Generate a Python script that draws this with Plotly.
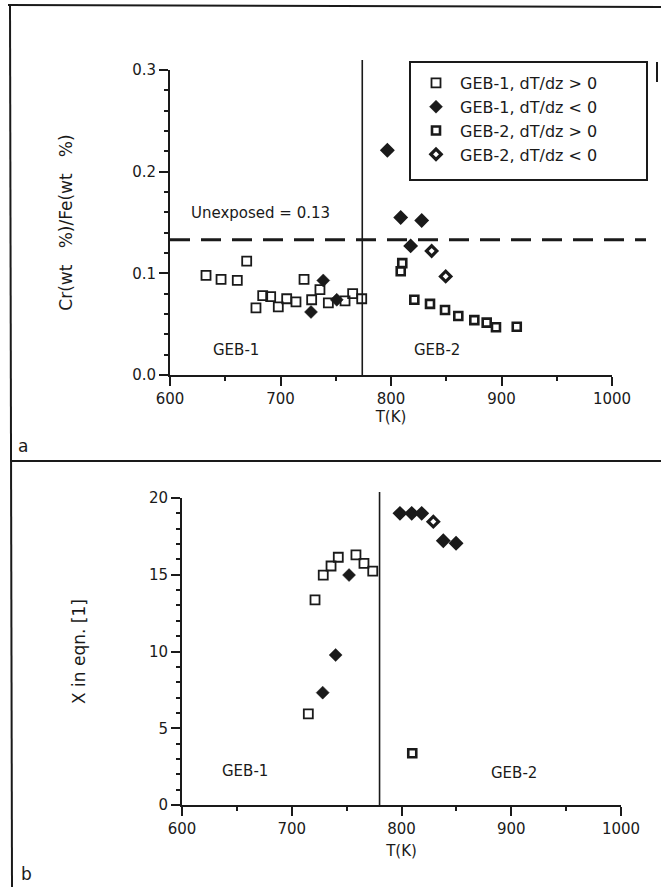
import plotly.graph_objects as go

# ---------------- data ----------------
# Panel a: Cr(wt %)/Fe(wt %) vs T(K)
a_geb1_pos_T = [632.6, 646.2, 660.9, 669.4, 677.8, 683.9, 691.1, 698.0, 705.6, 714.0,
                721.3, 728.2, 735.7, 743.3, 758.4, 765.3, 773.5]
a_geb1_pos_v = [0.098, 0.094, 0.093, 0.112, 0.066, 0.078, 0.077, 0.067, 0.075, 0.072,
                0.094, 0.074, 0.084, 0.071, 0.073, 0.080, 0.075]
a_geb1_neg_T = [727.6, 738.7, 750.9]
a_geb1_neg_v = [0.062, 0.093, 0.074]
a_geb2_pos_T = [810.2, 808.8, 821.1, 835.3, 848.9, 860.9, 875.4, 886.6, 895.0, 913.8]
a_geb2_pos_v = [0.110, 0.102, 0.074, 0.070, 0.064, 0.058, 0.054, 0.0515, 0.047, 0.0475]
a_geb2_neg_T = [836.8, 849.5, 796.7, 808.8, 817.8, 827.8]
a_geb2_neg_v = [0.122, 0.097, 0.221, 0.155, 0.127, 0.152]
a_unexposed = 0.133
a_boundary_T = 774

# Panel b: X in eqn. [1] vs T(K)
b_geb1_pos_T = [715.1, 721.2, 728.7, 735.8, 742.4, 758.5, 765.8, 773.8]
b_geb1_pos_v = [5.93, 13.36, 14.98, 15.57, 16.14, 16.29, 15.74, 15.24]
b_geb1_neg_T = [728.2, 740.0, 752.2]
b_geb1_neg_v = [7.32, 9.77, 14.98]
b_geb2_pos_T = [809.8]
b_geb2_pos_v = [3.37]
b_geb2_neg_T = [829.0, 798.6, 809.3, 818.4, 838.1, 849.7]
b_geb2_neg_v = [18.46, 19.0, 19.0, 19.0, 17.22, 17.05]
b_boundary_T = 780

x_ticks = [600, 700, 800, 900, 1000]
a_y_ticks = [0.0, 0.1, 0.2, 0.3]
a_y_ticklabels = ["0.0", "0.1", "0.2", "0.3"]
b_y_ticks = [0, 5, 10, 15, 20]

legend_names = ["GEB-1, dT/dz > 0", "GEB-1, dT/dz < 0",
                "GEB-2, dT/dz > 0", "GEB-2, dT/dz < 0"]

# ---------------- styling ----------------
W, H = 661, 887
FONT = "DejaVu Sans, Liberation Sans, Arial, sans-serif"
INK = "#1a1a1a"

def px_x(p):
    return p / W

def px_y(p):
    return 1 - p / H

sty_g1p = dict(symbol="square-open", size=9, color=INK, line=dict(width=1.8, color=INK))
sty_g1n = dict(symbol="diamond", size=10, color=INK, line=dict(width=0.5, color=INK))
sty_g2p = dict(symbol="square-open", size=8, color=INK, line=dict(width=2.6, color=INK))
a_g2n_symbols = ["diamond-open", "diamond-open", "diamond", "diamond", "diamond", "diamond"]
b_g2n_symbols = ["diamond-open", "diamond", "diamond", "diamond", "diamond", "diamond"]

def sty_g2n(symbols):
    return dict(symbol=symbols, size=8, color=INK, line=dict(width=3.2, color=INK))

fig = go.Figure()

# panel a traces
fig.add_trace(go.Scatter(x=a_geb1_pos_T, y=a_geb1_pos_v, mode="markers", name=legend_names[0],
                         marker=sty_g1p, xaxis="x", yaxis="y", cliponaxis=False))
fig.add_trace(go.Scatter(x=a_geb1_neg_T, y=a_geb1_neg_v, mode="markers", name=legend_names[1],
                         marker=sty_g1n, xaxis="x", yaxis="y", cliponaxis=False))
fig.add_trace(go.Scatter(x=a_geb2_pos_T, y=a_geb2_pos_v, mode="markers", name=legend_names[2],
                         marker=sty_g2p, xaxis="x", yaxis="y", cliponaxis=False))
fig.add_trace(go.Scatter(x=a_geb2_neg_T, y=a_geb2_neg_v, mode="markers", name=legend_names[3],
                         marker=sty_g2n(a_g2n_symbols), xaxis="x", yaxis="y", cliponaxis=False))

# panel b traces
fig.add_trace(go.Scatter(x=b_geb1_pos_T, y=b_geb1_pos_v, mode="markers", name=legend_names[0],
                         marker=sty_g1p, xaxis="x2", yaxis="y2", showlegend=False, cliponaxis=False))
fig.add_trace(go.Scatter(x=b_geb1_neg_T, y=b_geb1_neg_v, mode="markers", name=legend_names[1],
                         marker=sty_g1n, xaxis="x2", yaxis="y2", showlegend=False, cliponaxis=False))
fig.add_trace(go.Scatter(x=b_geb2_pos_T, y=b_geb2_pos_v, mode="markers", name=legend_names[2],
                         marker=sty_g2p, xaxis="x2", yaxis="y2", showlegend=False, cliponaxis=False))
fig.add_trace(go.Scatter(x=b_geb2_neg_T, y=b_geb2_neg_v, mode="markers", name=legend_names[3],
                         marker=sty_g2n(b_g2n_symbols), xaxis="x2", yaxis="y2", showlegend=False,
                         cliponaxis=False))

axis_common = dict(showgrid=False, zeroline=False, showline=True, linecolor=INK, linewidth=2,
                   ticks="outside", ticklen=9, tickwidth=2, tickcolor=INK,
                   tickfont=dict(family=FONT, size=15, color=INK), mirror=False,
                   automargin=False)
title_font = dict(family=FONT, size=17, color=INK)

fig.update_layout(
    width=W, height=H, autosize=False,
    margin=dict(l=0, r=0, t=0, b=0, pad=0, autoexpand=False),
    paper_bgcolor="white", plot_bgcolor="white",
    font=dict(family=FONT, color=INK),
    xaxis=dict(axis_common, domain=[px_x(170), px_x(612)], range=[600, 1000],
               tickvals=x_ticks, anchor="y",
               minor=dict(dtick=50, ticklen=4, tickwidth=1.5, tickcolor=INK, ticks="outside"),
               title=dict(text="T(K)", font=dict(family=FONT, size=15, color=INK), standoff=0)),
    yaxis=dict(axis_common, domain=[px_y(375), px_y(70)], range=[0, 0.3],
               tickvals=a_y_ticks, ticktext=a_y_ticklabels, anchor="x",
               minor=dict(dtick=0.02, ticklen=4, tickwidth=1.5, tickcolor=INK, ticks="outside"),
               title=dict(text="Cr(wt   %)/Fe(wt   %)", font=title_font, standoff=55)),
    xaxis2=dict(axis_common, domain=[px_x(182), px_x(621)], range=[600, 1000],
                tickvals=x_ticks, anchor="y2",
                minor=dict(dtick=50, ticklen=4, tickwidth=1.5, tickcolor=INK, ticks="outside"),
                title=dict(text="T(K)", font=dict(family=FONT, size=15, color=INK), standoff=8)),
    yaxis2=dict(axis_common, domain=[px_y(805), px_y(498)], range=[0, 20],
                tickvals=b_y_ticks, anchor="x2",
                minor=dict(dtick=1, ticklen=4, tickwidth=1.5, tickcolor=INK, ticks="outside"),
                title=dict(text="X in eqn. [1]", font=title_font, standoff=59)),
    legend=dict(x=px_x(412), y=px_y(66), xanchor="left", yanchor="top",
                bgcolor="rgba(0,0,0,0)", borderwidth=0,
                font=dict(family=FONT, size=16, color=INK), tracegroupgap=0,
                itemsizing="trace", itemwidth=38),
    showlegend=True,
)

shapes = []
# outer frame and panel separator
shapes.append(dict(type="line", xref="paper", yref="paper", x0=px_x(10), x1=px_x(12),
                   y0=px_y(5), y1=px_y(887), line=dict(color=INK, width=2)))
shapes.append(dict(type="line", xref="paper", yref="paper", x0=px_x(8), x1=px_x(661),
                   y0=px_y(5), y1=px_y(7), line=dict(color=INK, width=2)))
shapes.append(dict(type="line", xref="paper", yref="paper", x0=px_x(12), x1=px_x(661),
                   y0=px_y(461), y1=px_y(461), line=dict(color=INK, width=2)))
shapes.append(dict(type="line", xref="paper", yref="paper", x0=px_x(657), x1=px_x(657),
                   y0=px_y(62), y1=px_y(82), line=dict(color=INK, width=2)))
# legend box
shapes.append(dict(type="rect", xref="paper", yref="paper", x0=px_x(410), x1=px_x(647),
                   y0=px_y(180), y1=px_y(62), line=dict(color=INK, width=2),
                   fillcolor="rgba(0,0,0,0)"))
# GEB-1 / GEB-2 boundaries
shapes.append(dict(type="line", xref="x", yref="paper", x0=a_boundary_T, x1=a_boundary_T,
                   y0=px_y(375), y1=px_y(60), line=dict(color=INK, width=1.6)))
shapes.append(dict(type="line", xref="x2", yref="paper", x0=b_boundary_T, x1=b_boundary_T,
                   y0=px_y(805), y1=px_y(492), line=dict(color=INK, width=1.6)))
# unexposed level
shapes.append(dict(type="line", xref="paper", yref="y", x0=px_x(170), x1=px_x(646),
                   y0=a_unexposed, y1=a_unexposed,
                   line=dict(color=INK, width=3, dash="20px,11px")))
fig.update_layout(shapes=shapes)

ann_font = dict(family=FONT, size=15, color=INK)

def label(text, xp, yp, size=None):
    f = ann_font if size is None else dict(family=FONT, size=size, color=INK)
    return dict(text=text, xref="paper", yref="paper", x=px_x(xp), y=px_y(yp),
                xanchor="center", yanchor="middle", showarrow=False, font=f)

annotations = [
    label("Unexposed = 0.13", 260, 213),
    label("GEB-1", 236, 350),
    label("GEB-2", 437, 350),
    label("GEB-1", 245, 771),
    label("GEB-2", 514, 773),
    label("a", 23, 446, 17),
    label("b", 26, 874, 17),
]
fig.update_layout(annotations=annotations)

fig.write_html("out.html", config={"displayModeBar": False},
               post_script="document.body.style.margin='0';document.body.style.overflow='hidden';")
